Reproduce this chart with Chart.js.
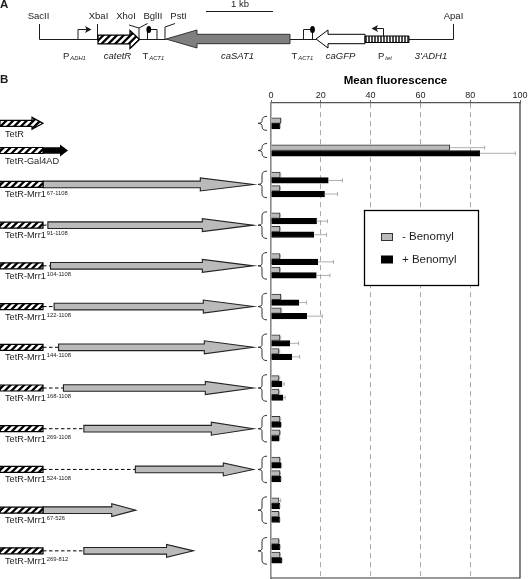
<!DOCTYPE html>
<html>
<head>
<meta charset="utf-8">
<title>Mean fluorescence</title>
<style>
  html, body { margin: 0; padding: 0; background: #fff; }
  canvas { display: block; }
</style>
<script src="https://cdn.jsdelivr.net/npm/chart.js@4"></script>
</head>
<body>
<canvas id="myChart" width="528" height="579"></canvas>
<script>
// One name per row of the plot, two rows for the constructs tested twice, "" = gap
var categories = [
  "", "TetR", "", "TetR-Gal4AD", "",
  "67-1108", "67-1108", "", "91-1108", "91-1108", "",
  "104-1108", "104-1108", "", "122-1108", "122-1108", "",
  "144-1108", "144-1108", "", "168-1108", "168-1108", "",
  "269-1108", "269-1108", "", "524-1108", "524-1108", "",
  "67-526", "67-526", "", "269-812", "269-812", ""
];

var minusBenomyl = [
  null, 3.9, null, 71.8, null,
  3.7, 3.6, null, 3.6, 3.6, null,
  3.6, 3.6, null, 3.9, 4.1, null,
  3.6, 3.2, null, 3.2, 3.2, null,
  3.6, 3.6, null, 3.6, 3.6, null,
  3.2, 3.2, null, 3.2, 3.6, null
];
var plusBenomyl = [
  null, 3.6, null, 83.8, null,
  23, 21.5, null, 18.3, 17.2, null,
  18.8, 18.2, null, 11.2, 14.4, null,
  7.5, 8.3, null, 4.4, 4.8, null,
  4, 3.3, null, 4.1, 3.9, null,
  3.5, 3.5, null, 3.6, 4.3, null
];
// Upper ends of the error bars
var minusBenomylTop = [
  null, 4.1, null, 85.8, null,
  3.9, 3.8, null, 3.8, 3.8, null,
  3.8, 3.8, null, 4.1, 4.3, null,
  3.9, 3.5, null, 3.5, 3.5, null,
  3.9, 3.8, null, 3.8, 3.8, null,
  3.9, 3.4, null, 3.4, 3.8, null
];
var plusBenomylTop = [
  null, 3.7, null, 98.1, null,
  28.7, 26.7, null, 22.7, 22.3, null,
  25.1, 23.7, null, 14.3, 20.6, null,
  11.1, 11.5, null, 5.3, 5.7, null,
  4.2, 3.5, null, 4.3, 4.1, null,
  3.6, 3.6, null, 3.7, 4.5, null
];

var xTicks = [0, 20, 40, 60, 80, 100];

// Constructs drawn on the left: residues of Mrr1 kept in each one
var mrrNames = ["67-1108", "91-1108", "104-1108", "122-1108", "144-1108", "168-1108", "269-1108", "524-1108", "67-526", "269-812"];
var mrrStart = [67, 91, 104, 122, 144, 168, 269, 524, 67, 269];
var mrrEnd = [1108, 1108, 1108, 1108, 1108, 1108, 1108, 1108, 526, 812];

var LEFT = 271, RIGHT = 520, TOP = 103, BOTTOM = 578;
var SANS = '"Liberation Sans", Arial, sans-serif';
var INK = "#1c1c1c";

function residueX(r) {
  return 29.5 + 0.202 * r;
}

function txt(ctx, s, x, y, font, align, color) {
  ctx.font = font + " " + SANS;
  ctx.textAlign = align || "left";
  ctx.textBaseline = "middle";
  ctx.fillStyle = color || INK;
  ctx.fillText(s, x, y);
}

// Text followed by a small lowered or raised part, e.g. T(ACT1)
function txtSmall(ctx, s, small, x, y, font, smallFont, dy) {
  txt(ctx, s, x, y, font);
  var w = ctx.measureText(s).width;
  txt(ctx, small, x + w + 1, y + dy, smallFont);
}

function line(ctx, pts, width, color) {
  ctx.lineWidth = width || 1;
  ctx.strokeStyle = color || INK;
  ctx.beginPath();
  pts.forEach(function (p, i) {
    if (i) ctx.lineTo(p[0], p[1]);
    else ctx.moveTo(p[0], p[1]);
  });
  ctx.stroke();
}

// Block arrow, points left when x1 < x0
function arrowPath(ctx, x0, x1, hx, y, b, h) {
  ctx.beginPath();
  ctx.moveTo(x0, y - b);
  ctx.lineTo(hx, y - b);
  ctx.lineTo(hx, y - h);
  ctx.lineTo(x1, y);
  ctx.lineTo(hx, y + h);
  ctx.lineTo(hx, y + b);
  ctx.lineTo(x0, y + b);
  ctx.closePath();
}

function hatch(ctx, x0, x1, y0, y1) {
  ctx.save();
  ctx.clip();
  ctx.fillStyle = "#fff";
  ctx.fillRect(x0, y0, x1 - x0, y1 - y0);
  ctx.strokeStyle = "#000";
  ctx.lineWidth = 2.3;
  var h = y1 - y0;
  ctx.beginPath();
  for (var x = x0 - 4 - h; x < x1 + h; x += 6.8) {
    ctx.moveTo(x, y1 + 1);
    ctx.lineTo(x + h + 2, y0 - 1);
  }
  ctx.stroke();
  ctx.restore();
}

function hatchedBar(ctx, x0, x1, y) {
  ctx.beginPath();
  ctx.rect(x0, y - 3, x1 - x0, 6);
  hatch(ctx, x0, x1, y - 3, y + 3);
  ctx.beginPath();
  ctx.rect(x0, y - 3, x1 - x0, 6);
  ctx.lineWidth = 1.2;
  ctx.strokeStyle = "#000";
  ctx.stroke();
}

function brace(ctx, y0, y1) {
  var m = (y0 + y1) / 2;
  ctx.lineWidth = 1;
  ctx.strokeStyle = "#333";
  ctx.beginPath();
  ctx.moveTo(267, y0);
  ctx.quadraticCurveTo(262, y0, 262, y0 + 4);
  ctx.lineTo(262, m - 2);
  ctx.quadraticCurveTo(262, m, 258, m);
  ctx.quadraticCurveTo(262, m, 262, m + 2);
  ctx.lineTo(262, y1 - 4);
  ctx.quadraticCurveTo(262, y1, 267, y1);
  ctx.stroke();
}

function terminator(ctx, x0, x1, lolly) {
  line(ctx, [[x0, 39.5], [x0, 29.5], [x1, 29.5], [x1, 39.5]], 1);
  ctx.fillStyle = "#000";
  ctx.beginPath();
  ctx.ellipse(lolly, 29.5, 2.4, 3.5, 0, 0, Math.PI * 2);
  ctx.fill();
}

// Panel A, the cassette map
function drawMap(ctx) {
  txt(ctx, "A", 0, 5, "bold 11.5px");
  txt(ctx, "B", 0, 80, "bold 11.5px");

  txt(ctx, "1 kb", 240, 4.5, "9.5px", "center");
  line(ctx, [[206, 11.5], [273, 11.5]], 1);

  // backbone
  line(ctx, [[39.5, 24], [39.5, 39.5], [98, 39.5]], 1);
  line(ctx, [[97.5, 24], [97.5, 39.5]], 1);
  line(ctx, [[139, 39.5], [166, 39.5]], 1);
  line(ctx, [[290, 39.5], [316, 39.5]], 1);
  line(ctx, [[409, 39.5], [453.5, 39.5], [453.5, 24]], 1);

  // promoter arrows
  line(ctx, [[78, 39.5], [78, 29.5], [88, 29.5]], 1);
  ctx.fillStyle = INK;
  ctx.beginPath();
  ctx.moveTo(91.5, 29.5); ctx.lineTo(85, 26); ctx.lineTo(86.5, 29.5); ctx.lineTo(85, 33);
  ctx.closePath();
  ctx.fill();
  line(ctx, [[383.5, 36], [383.5, 28.5], [375, 28.5]], 1);
  ctx.beginPath();
  ctx.moveTo(371.5, 28.5); ctx.lineTo(378, 25); ctx.lineTo(376.5, 28.5); ctx.lineTo(378, 32);
  ctx.closePath();
  ctx.fill();

  // site markers
  line(ctx, [[129, 25], [139, 28], [147.5, 23.5]], 1);
  line(ctx, [[139, 28], [139, 39.5]], 1);
  line(ctx, [[165, 39.5], [165, 27], [175, 23.5]], 1);

  terminator(ctx, 147.5, 157, 148.8);
  terminator(ctx, 303.5, 312.5, 312.5);

  // catetR
  arrowPath(ctx, 98, 139.5, 130, 39.5, 4.4, 9);
  hatch(ctx, 98, 140, 30, 49);
  arrowPath(ctx, 98, 139.5, 130, 39.5, 4.4, 9);
  ctx.lineWidth = 1.3;
  ctx.strokeStyle = "#000";
  ctx.stroke();

  // caSAT1
  arrowPath(ctx, 290, 166, 197, 39, 4.7, 9);
  ctx.fillStyle = "#7f7f7f";
  ctx.fill();
  ctx.lineWidth = 1;
  ctx.strokeStyle = "#333";
  ctx.stroke();

  // caGFP
  arrowPath(ctx, 365, 316, 328, 39, 4.7, 9);
  ctx.fillStyle = "#fff";
  ctx.fill();
  ctx.lineWidth = 1;
  ctx.strokeStyle = "#000";
  ctx.stroke();

  // Ptet stripes
  ctx.fillStyle = "#fff";
  ctx.fillRect(365, 36, 44, 6.5);
  for (var x = 366; x < 409; x += 3) {
    line(ctx, [[x, 36], [x, 42.5]], 1.4, "#000");
  }
  line(ctx, [[365, 36], [409, 36], [409, 42.5], [365, 42.5], [365, 36]], 1, "#000");

  txt(ctx, "SacII", 38.5, 16.5, "9.5px", "center");
  txt(ctx, "XbaI", 98.5, 16.5, "9.5px", "center");
  txt(ctx, "XhoI", 126, 16.5, "9.5px", "center");
  txt(ctx, "BglII", 153, 16.5, "9.5px", "center");
  txt(ctx, "PstI", 178.5, 16.5, "9.5px", "center");
  txt(ctx, "ApaI", 453.5, 16.5, "9.5px", "center");

  txtSmall(ctx, "P", "ADH1", 63, 56.5, "9.5px", "italic 5.8px", 2);
  txt(ctx, "catetR", 117.5, 56.5, "italic 9.5px", "center");
  txtSmall(ctx, "T", "ACT1", 142.5, 56.5, "9.5px", "italic 5.8px", 2);
  txt(ctx, "caSAT1", 237.5, 56.5, "italic 9.5px", "center");
  txtSmall(ctx, "T", "ACT1", 291.5, 56.5, "9.5px", "italic 5.8px", 2);
  txt(ctx, "caGFP", 340.5, 56.5, "italic 9.5px", "center");
  txtSmall(ctx, "P", "tet", 378, 56.5, "9.5px", "italic 5.8px", 2);
  txt(ctx, "3'ADH1", 431, 56.5, "italic 9.5px", "center");
}

// Panel B, the construct drawn in line with its bars
function drawConstructs(ctx, yScale) {
  var headLengths = [53, 51, 51, 50, 49, 48, 42, 30, 24, 27];

  function rowY(name) {
    var a = categories.indexOf(name), b = categories.lastIndexOf(name);
    return (yScale.getPixelForValue(a) + yScale.getPixelForValue(b)) / 2;
  }
  function name(s, y, small) {
    if (small) txtSmall(ctx, s, small, 5, y, "9.2px", "5.8px", -2);
    else txt(ctx, s, 5, y, "9.2px");
  }

  // TetR alone
  var y = rowY("TetR");
  arrowPath(ctx, 0, 43, 32, y, 3, 6);
  hatch(ctx, 0, 44, y - 7, y + 7);
  arrowPath(ctx, 0, 43, 32, y, 3, 6);
  ctx.lineWidth = 1.2;
  ctx.strokeStyle = "#000";
  ctx.stroke();
  name("TetR", y + 11);

  // TetR-Gal4AD
  y = rowY("TetR-Gal4AD");
  arrowPath(ctx, 43, 68, 60, y, 3.2, 6);
  ctx.fillStyle = "#000";
  ctx.fill();
  hatchedBar(ctx, 0, 43, y);
  name("TetR-Gal4AD", y + 11);

  // Truncations of Mrr1
  mrrNames.forEach(function (n, i) {
    var ry = rowY(n);
    var x0 = residueX(mrrStart[i]), x1 = residueX(mrrEnd[i]);
    if (x0 > 44) {
      ctx.save();
      ctx.setLineDash([3.5, 2.5]);
      line(ctx, [[43, ry], [x0, ry]], 1, "#000");
      ctx.restore();
    }
    arrowPath(ctx, x0, x1, x1 - headLengths[i], ry, 3.3, 6.5);
    ctx.fillStyle = "#bababa";
    ctx.fill();
    ctx.lineWidth = 1.1;
    ctx.strokeStyle = "#222";
    ctx.stroke();
    hatchedBar(ctx, 0, 43, ry);
    name("TetR-Mrr1", ry + 10.5, n);
  });

  // Braces tie each construct to its rows
  var seen = {};
  categories.forEach(function (c) {
    if (!c || seen[c]) return;
    seen[c] = true;
    var m = rowY(c);
    var half = categories.indexOf(c) === categories.lastIndexOf(c) ? 7 : 13.3;
    brace(ctx, m - half, m + half);
  });
}

function drawLegend(ctx, chart) {
  var sets = chart.data.datasets;
  ctx.fillStyle = "#fff";
  ctx.fillRect(364.5, 210.5, 114, 75);
  ctx.lineWidth = 1.3;
  ctx.strokeStyle = "#000";
  ctx.strokeRect(364.5, 210.5, 114, 75);
  [237, 259.5].forEach(function (y, i) {
    ctx.fillStyle = sets[i].backgroundColor;
    ctx.fillRect(381.5, y - 3.5, 11, 7);
    ctx.lineWidth = 1;
    ctx.strokeStyle = sets[i].borderColor;
    ctx.strokeRect(381.5, y - 3.5, 11, 7);
    txt(ctx, sets[i].label, 402, y, "11.5px");
  });
}

function drawWhiskers(ctx, chart, datasetIndex, tops) {
  var xs = chart.scales.x;
  var meta = chart.getDatasetMeta(datasetIndex);
  tops.forEach(function (t, i) {
    if (t === null) return;
    var bar = meta.data[i];
    var x = xs.getPixelForValue(t);
    line(ctx, [[bar.x, bar.y], [x, bar.y]], 0.8, "#999");
    line(ctx, [[x, bar.y - 2], [x, bar.y + 2]], 0.8, "#999");
  });
}

var extras = {
  id: "extras",
  afterDatasetsDraw: function (chart) {
    var ctx = chart.ctx;
    ctx.save();
    drawWhiskers(ctx, chart, 0, minusBenomylTop);
    drawWhiskers(ctx, chart, 1, plusBenomylTop);
    // frame, the top and left sides come from the scales
    var a = chart.chartArea;
    line(ctx, [[a.right, a.top], [a.right, a.bottom], [a.left, a.bottom]], 1.2, "#333");
    drawLegend(ctx, chart);
    drawMap(ctx);
    drawConstructs(ctx, chart.scales.y);
    ctx.restore();
  },
};

new Chart("myChart", {
  type: "bar",
  data: {
    labels: categories,
    datasets: [
      {
        label: "- Benomyl",
        data: minusBenomyl,
        backgroundColor: "#bababa",
        borderColor: "#333",
        borderWidth: 1,
      },
      {
        label: "+ Benomyl",
        data: plusBenomyl,
        backgroundColor: "#000",
        borderColor: "#000",
        borderWidth: 1,
      },
    ],
  },
  options: {
    indexAxis: "y",
    responsive: false,
    animation: false,
    barThickness: 5.6,
    layout: { padding: { left: LEFT, right: 528 - RIGHT, top: 0, bottom: 579 - BOTTOM } },
    plugins: { legend: false, tooltip: false },
    scales: {
      x: {
        position: "top",
        min: 0,
        max: 100,
        afterBuildTicks: function (s) {
          s.ticks = xTicks.map(function (v) { return { value: v }; });
        },
        afterFit: function (s) { s.height = TOP; },
        grid: {
          drawTicks: true,
          tickLength: 3,
          tickColor: "#666",
          color: function (c) {
            return c.tick.value === 0 || c.tick.value === 100 ? "transparent" : "#a8a8a8";
          },
        },
        border: { color: "#555", width: 1.2, dash: [5, 4] },
        ticks: {
          maxRotation: 0,
          padding: -1,
          color: INK,
          font: { family: SANS, size: 9 },
        },
        title: {
          display: true,
          text: "Mean fluorescence",
          color: "#000",
          font: { family: SANS, size: 11.5, weight: "bold" },
          padding: { top: 74, bottom: 4 },
        },
      },
      y: {
        afterFit: function (s) { s.width = 0; },
        grid: { display: false },
        border: { color: "#888", width: 1.6 },
        ticks: { display: false },
      },
    },
  },
  plugins: [extras],
});
</script>
</body>
</html>
